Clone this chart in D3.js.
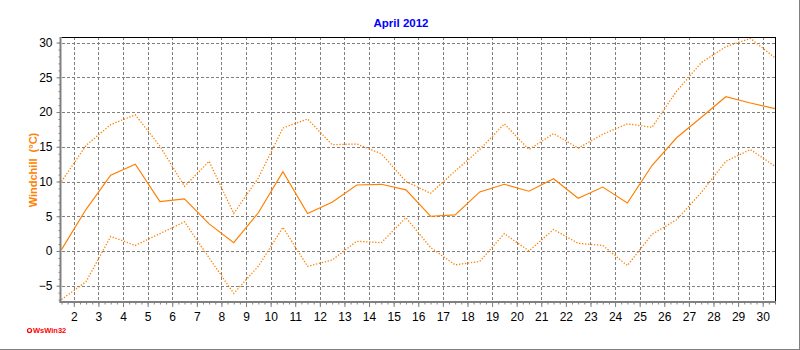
<!DOCTYPE html>
<html lang="en">
<head>
  <meta charset="utf-8">
  <title>April 2012</title>
  <script src="https://d3js.org/d3.v7.min.js"></script>
  <style>
    body { margin: 0; background: #fff; }
    svg { display: block; font-family: "Liberation Sans", Arial, sans-serif; }
  </style>
</head>
<body>
  <svg id="chart" width="800" height="350"></svg>
  <script>
  // daily positions (values plotted mid-day, April 1..30)
  const days = d3.range(1, 31);
  const avgVals = [0.2, 6.0, 10.9, 12.5, 7.1, 7.5, 3.9, 1.2, 5.5, 11.4,
                   5.4, 7.0, 9.5, 9.6, 8.8, 5.0, 5.2, 8.5, 9.6, 8.6,
                   10.4, 7.6, 9.2, 6.9, 12.3, 16.3, 19.2, 22.2, 21.3, 20.5];
  const maxVals = [10.0, 15.2, 18.2, 19.6, 15.1, 9.3, 12.9, 5.4, 10.5, 17.7,
                   19.0, 15.3, 15.4, 14.0, 10.0, 8.3, 11.5, 14.6, 18.3, 14.6,
                   16.9, 14.8, 16.8, 18.3, 17.8, 23.0, 27.1, 29.4, 30.6, 27.8];
  const minVals = [-7.0, -4.4, 2.1, 0.8, 2.5, 4.2, -1.0, -6.1, -2.2, 3.4,
                   -2.2, -1.3, 1.4, 1.2, 4.8, 0.5, -2.0, -1.5, 2.5, 0.0,
                   3.1, 1.1, 0.8, -2.1, 2.4, 4.5, 8.4, 12.9, 14.6, 12.2];
  const xTicks = d3.range(2, 31);
  const yTicks = [-5, 0, 5, 10, 15, 20, 25, 30];

  const svg = d3.select("#chart");
  const pl = 61.5, pr = 775, pt = 37, pb = 301;

  const x = d3.scaleLinear().domain([1.5, 30.5]).range([pl, pr]);
  const y = d3.scaleLinear().domain([-7.2, 30.8]).range([pb, pt]);

  // outer frame (bottom / right)
  svg.append("line").attr("x1", 0).attr("x2", 800).attr("y1", 349.5).attr("y2", 349.5)
    .attr("stroke", "#808080");
  svg.append("line").attr("x1", 799.5).attr("x2", 799.5).attr("y1", 0).attr("y2", 350)
    .attr("stroke", "#808080");

  // grid
  const grid = svg.append("g").attr("stroke", "#808080").attr("stroke-dasharray", "3,2")
    .attr("shape-rendering", "crispEdges");
  grid.selectAll(".vg").data(xTicks).enter().append("line")
    .attr("x1", d => Math.round(x(d)) + 0.5).attr("x2", d => Math.round(x(d)) + 0.5)
    .attr("y1", pt).attr("y2", pb);
  grid.selectAll(".hg").data(yTicks).enter().append("line")
    .attr("x1", pl).attr("x2", pr)
    .attr("y1", d => Math.round(y(d)) + 0.5).attr("y2", d => Math.round(y(d)) + 0.5);

  // series
  const line = d3.line().x((d, i) => x(days[i] + 0.5)).y(d => y(d));
  svg.append("path").datum(maxVals).attr("d", line)
    .attr("fill", "none").attr("stroke", "#ff8000").attr("stroke-width", 1.3)
    .attr("stroke-dasharray", "1.3,1.7");
  svg.append("path").datum(minVals).attr("d", line)
    .attr("fill", "none").attr("stroke", "#ff8000").attr("stroke-width", 1.3)
    .attr("stroke-dasharray", "1.3,1.7");
  svg.append("path").datum(avgVals).attr("d", line)
    .attr("fill", "none").attr("stroke", "#ff8000").attr("stroke-width", 1.2);

  // top / right border
  svg.append("line").attr("x1", pl).attr("x2", pr + 0.5).attr("y1", pt + 0.5).attr("y2", pt + 0.5)
    .attr("stroke", "#000");
  svg.append("line").attr("x1", pr + 0.5).attr("x2", pr + 0.5).attr("y1", pt).attr("y2", pb)
    .attr("stroke", "#000");

  // y axis
  const yAxis = d3.axisLeft(y).tickValues(yTicks).tickSize(4).tickPadding(4);
  const yMinor = d3.axisLeft(y).tickValues(d3.range(-7, 31)).tickSize(2).tickFormat("");
  const gy = svg.append("g").attr("transform", `translate(${pl - 1},0)`).call(yAxis);
  const gym = svg.append("g").attr("transform", `translate(${pl - 1},0)`).call(yMinor);
  [gy, gym].forEach(g => {
    g.select(".domain").remove();
    g.selectAll("line").attr("stroke", "#808080");
  });
  gy.selectAll("text").attr("font-size", 12).attr("fill", "#000")
    .attr("font-family", "Liberation Sans, Arial, sans-serif");

  // x axis
  const xAxis = d3.axisBottom(x).tickValues(xTicks).tickSize(5).tickPadding(5);
  const xMinor = d3.axisBottom(x).tickValues(d3.range(1.5, 30.51, 0.25)).tickSize(2.5).tickFormat("");
  const gx = svg.append("g").attr("transform", `translate(0,${pb + 1})`).call(xAxis);
  const gxm = svg.append("g").attr("transform", `translate(0,${pb + 1})`).call(xMinor);
  [gx, gxm].forEach(g => {
    g.select(".domain").remove();
    g.selectAll("line").attr("stroke", "#808080");
  });
  gx.selectAll("text").attr("font-size", 12).attr("fill", "#000")
    .attr("font-family", "Liberation Sans, Arial, sans-serif");

  // thick gray axes
  svg.append("rect").attr("x", pl - 2).attr("y", pt).attr("width", 2).attr("height", pb - pt + 2)
    .attr("fill", "#808080");
  svg.append("rect").attr("x", pl - 2).attr("y", pb).attr("width", pr - pl + 3).attr("height", 2)
    .attr("fill", "#808080");

  // title
  svg.append("text").attr("x", 401).attr("y", 27).attr("text-anchor", "middle")
    .attr("font-size", 11.5).attr("font-weight", "bold").attr("fill", "#0000ff")
    .text("April 2012");

  // y label
  svg.append("text").attr("transform", "translate(37,170) rotate(-90)")
    .attr("text-anchor", "middle").attr("font-size", 11).attr("font-weight", "bold")
    .attr("fill", "#ff8000").attr("xml:space", "preserve").text("Windchill  (°C)");

  // logo
  svg.append("circle").attr("cx", 29.5).attr("cy", 330.5).attr("r", 2)
    .attr("fill", "none").attr("stroke", "#ff0000").attr("stroke-width", 1.2);
  svg.append("text").attr("x", 33).attr("y", 333).attr("font-size", 7.5).attr("font-weight", "bold")
    .attr("fill", "#ff0000").text("WsWin32");
  </script>
</body>
</html>
